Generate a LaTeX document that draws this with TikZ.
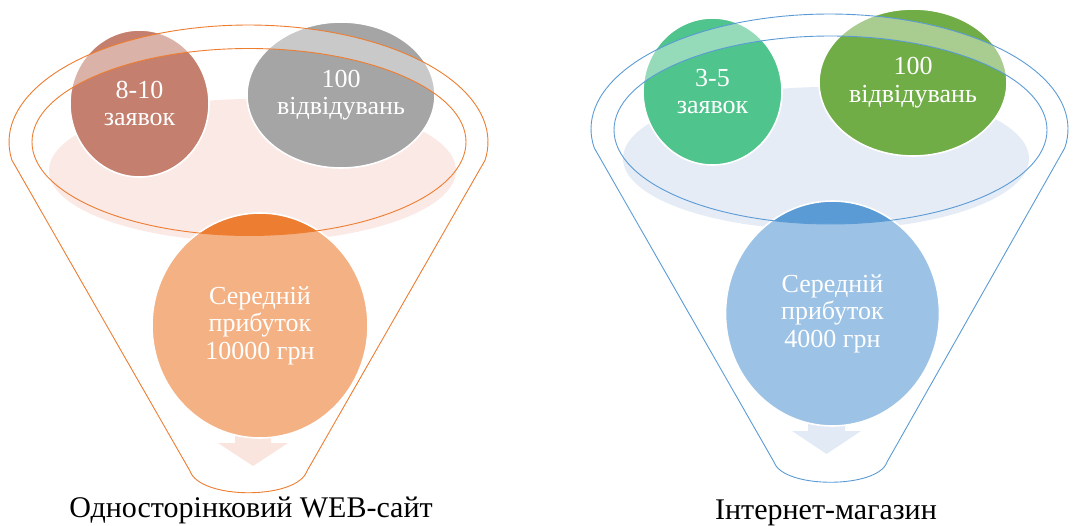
\documentclass[tikz,border=0pt]{standalone}
\usepackage{fontspec}
\setmainfont{Liberation Serif}
\usetikzlibrary{shapes.geometric}

\definecolor{rimorange}{HTML}{ED7D31}
\definecolor{rimblue}{HTML}{5B9BD5}
\definecolor{brickred}{HTML}{C47F6E}
\definecolor{midgray}{HTML}{A5A5A5}
\definecolor{seagreen}{HTML}{4FC48D}
\definecolor{olivegreen}{HTML}{70AD47}
\definecolor{pinkpool}{HTML}{FBE9E5}
\definecolor{bluepool}{HTML}{E5ECF6}
\definecolor{pinkarrow}{HTML}{FAE4DE}
\definecolor{bluearrow}{HTML}{E2EAF5}

\begin{document}
\begin{tikzpicture}[x=1pt,y=-1pt,
  bubble/.style={ellipse, draw=white, line width=1.6pt, inner sep=0pt, outer sep=0pt,
    text=white, align=center, font=\fontsize{26}{27.5}\selectfont},
  rim/.style={line width=0.9pt},
  caption/.style={anchor=base, font=\fontsize{30}{32}\selectfont},
  % outline of the left funnel: top of the outer rim, the sides and the rounded spout
  funnelL/.style={insert path={
    plot[domain=-8.9:188.9, samples=80, variable=\t]
      ({248.5+239.5*cos(\t)},{142-117*sin(\t)})
    -- (190,471) .. controls (200,500) and (297,500) .. (307,471) -- cycle}},
  funnelR/.style={insert path={
    plot[domain=-9.5:189.5, samples=80, variable=\t]
      ({829.5+238.5*cos(\t)},{129-115*sin(\t)})
    -- (774,462) .. controls (783,489) and (878,489) .. (887,462) -- cycle}}
]
\useasboundingbox (0,0) rectangle (1092,525);

% ---------------- left funnel: one-page web site ----------------
\fill[pinkpool] (252.5,170.5) ellipse [x radius=203.5, y radius=71.5];
\fill[pinkarrow] (235,420) -- (271,420) -- (271,443) -- (288,443) -- (253,466)
  -- (218,443) -- (235,443) -- cycle;

\node[bubble, fill=brickred, minimum width=139pt, minimum height=147pt]
  (reqL) at (139.5,103.5) {8-10\\заявок};
\node[bubble, fill=midgray, minimum width=188pt, minimum height=146pt]
  (visL) at (341,95) {100\\відвідувань};
\node[bubble, fill=rimorange, minimum width=216pt, minimum height=225pt]
  (profL) at (260,325.5) {Середній\\прибуток\\10000 грн};

% the glassy funnel body lightens whatever lies under it
\begin{scope}
  \clip (reqL.center) ellipse [x radius=69.5, y radius=73.5]
        (visL.center) ellipse [x radius=94, y radius=73]
        (profL.center) ellipse [x radius=108, y radius=112.5];
  \fill[white, opacity=0.4, even odd rule, funnelL]
        (249,142) ellipse [x radius=217, y radius=93.5];
\end{scope}

\draw[rimorange, rim, funnelL];
\draw[rimorange, rim] (249,142) ellipse [x radius=217, y radius=93.5];

\node[caption] (capL) at (251,517) {Односторінковий WEB-сайт};

% ---------------- right funnel: online shop ----------------
\fill[bluepool] (826,158.5) ellipse [x radius=203, y radius=71.5];
\fill[bluearrow] (808,412) -- (845,412) -- (845,431) -- (861,431) -- (826.5,454)
  -- (792,431) -- (808,431) -- cycle;

\node[bubble, fill=seagreen, minimum width=139pt, minimum height=147pt]
  (reqR) at (712.5,91.5) {3-5\\заявок};
\node[bubble, fill=olivegreen, minimum width=188pt, minimum height=147pt]
  (visR) at (913,82.5) {100\\відвідувань};
\node[bubble, fill=rimblue, minimum width=214pt, minimum height=225pt]
  (profR) at (832.5,313.5) {Середній\\прибуток\\4000 грн};

\begin{scope}
  \clip (reqR.center) ellipse [x radius=69.5, y radius=73.5]
        (visR.center) ellipse [x radius=94, y radius=73.5]
        (profR.center) ellipse [x radius=107, y radius=112.5];
  \fill[white, opacity=0.4, even odd rule, funnelR]
        (830.5,130) ellipse [x radius=216.5, y radius=94];
\end{scope}

\draw[rimblue, rim, funnelR];
\draw[rimblue, rim] (830.5,130) ellipse [x radius=216.5, y radius=94];

\node[caption] (capR) at (826,519) {Інтернет-магазин};
\end{tikzpicture}
\end{document}
